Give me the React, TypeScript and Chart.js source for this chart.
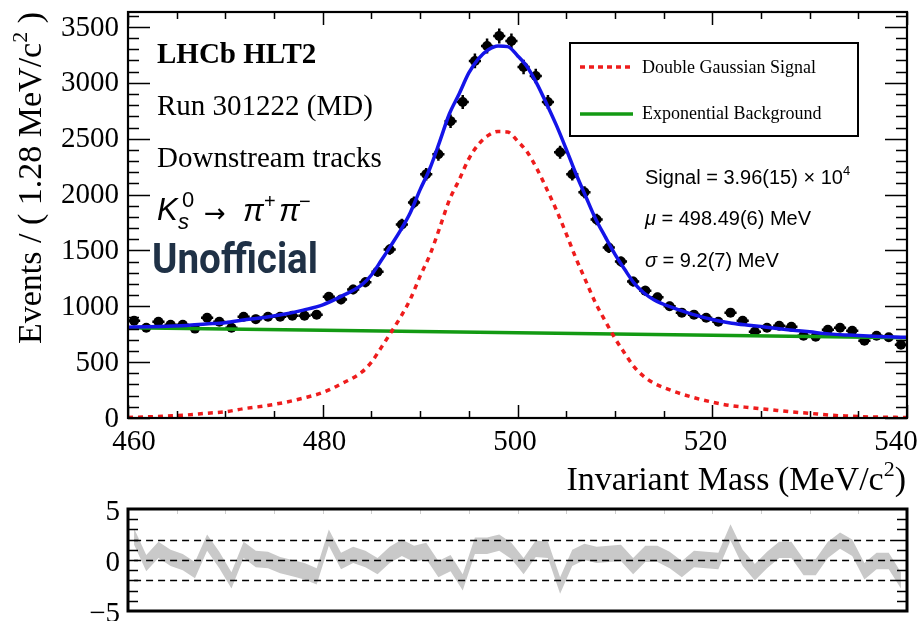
import React, { useEffect, useRef } from "react";
import { Chart, registerables } from "chart.js";

Chart.register(...registerables);

// ---- data ----
const binWidth = 1.25;
const binCenters = [
  460.625, 461.875, 463.125, 464.375, 465.625, 466.875, 468.125, 469.375, 470.625, 471.875,
  473.125, 474.375, 475.625, 476.875, 478.125, 479.375, 480.625, 481.875, 483.125, 484.375,
  485.625, 486.875, 488.125, 489.375, 490.625, 491.875, 493.125, 494.375, 495.625, 496.875,
  498.125, 499.375, 500.625, 501.875, 503.125, 504.375, 505.625, 506.875, 508.125, 509.375,
  510.625, 511.875, 513.125, 514.375, 515.625, 516.875, 518.125, 519.375, 520.625, 521.875,
  523.125, 524.375, 525.625, 526.875, 528.125, 529.375, 530.625, 531.875, 533.125, 534.375,
  535.625, 536.875, 538.125, 539.375,
];
const events = [
  870, 808, 862, 835, 835, 800, 898, 862, 808, 907,
  885, 907, 907, 916, 916, 925, 1086, 1060, 1150, 1215,
  1310, 1508, 1732, 1930, 2181, 2361, 2657, 2828, 3196, 3330,
  3420, 3375, 3142, 3061, 2828, 2379, 2181, 2020, 1777, 1526,
  1400, 1221, 1140, 1080, 1000, 943, 925, 898, 862, 943,
  870, 772, 808, 826, 817, 736, 727, 790, 808, 781,
  691, 736, 722, 655,
];
const curveMass = [
  460, 462, 464, 466, 468, 470, 472, 474, 476, 478, 480, 482, 484,
  485, 486, 487, 488, 489, 490, 491, 492, 493, 494, 495, 496, 497, 498, 499, 500,
  501, 502, 503, 504, 505, 506, 507, 508, 509, 510, 511, 512, 513, 514,
  516, 518, 520, 522, 524, 526, 528, 530, 532, 534, 536, 538, 540,
];
const signalCurve = [
  5, 10, 18, 27, 42, 56, 85, 108, 138, 178, 228, 310, 410,
  500, 630, 765, 905, 1065, 1270, 1460, 1700, 1950, 2130, 2320, 2450, 2530, 2565, 2560, 2480,
  2380, 2230, 2050, 1860, 1650, 1430, 1230, 1032, 870, 715, 580, 455, 370, 312,
  240, 185, 142, 110, 92, 74, 56, 42, 26, 17, 10, 7, 4,
];
const totalCurve = [
  813, 816, 822, 828, 841, 853, 879, 900, 928, 966, 1013, 1093, 1191,
  1280, 1409, 1543, 1681, 1840, 2044, 2233, 2472, 2721, 2900, 3089, 3217, 3296, 3330, 3324, 3243,
  3142, 2991, 2810, 2619, 2407, 2186, 1985, 1786, 1623, 1467, 1331, 1205, 1119, 1059,
  985, 928, 882, 848, 828, 808, 788, 771, 753, 742, 733, 727, 722,
];
const bkgMass = [460, 480, 500, 520, 540];
const bkgCurve = [808, 785, 763, 740, 718];
const pulls = [
  2.3, -0.3, 1.0, 0.2, -0.2, -1.0, 1.7, 0.0, -2.0, 1.0,
  0.1, 0.0, -0.5, -0.8, -1.1, -1.6, 2.2, -0.1, 0.5, 0.1,
  -0.6, 0.5, 1.2, 0.6, 0.9, -0.9, -0.3, -2.2, 1.4, 1.4,
  1.7, 0.9, -0.6, 1.1, 1.0, -2.5, 0.2, 0.8, 0.5, 0.6,
  0.7, -0.6, 0.6, 0.6, 0.0, -0.9, 0.1, 0.0, -0.1, 2.7,
  0.2, -1.2, 0.0, 1.0, 1.0, -0.7, -0.7, 1.0, 1.9, 1.2,
  -1.1, -0.1, -0.1, -2.0,
];
const pullBandHalf = 0.8;
const xTicks = [460, 480, 500, 520, 540];
const yTicks = [0, 500, 1000, 1500, 2000, 2500, 3000, 3500];
const pullTicks = [5, 0, -5];
const pullLines = [-2, 0, 2];

const SERIF = '"Liberation Serif", "Times New Roman", serif';
const SANS = '"Liberation Sans", Arial, sans-serif';

type Part = { t: string; font: string; dy?: number; dx?: number };
function drawParts(ctx: CanvasRenderingContext2D, x: number, y: number, parts: Part[], align: "left" | "right" = "left") {
  ctx.textAlign = "left";
  let total = 0;
  parts.forEach((p) => {
    ctx.font = p.font;
    total += ctx.measureText(p.t).width + (p.dx || 0);
  });
  let cx = align === "right" ? x - total : x;
  parts.forEach((p) => {
    ctx.font = p.font;
    cx += p.dx || 0;
    ctx.fillText(p.t, cx, y + (p.dy || 0));
    cx += ctx.measureText(p.t).width;
  });
}

const mainPlugin = {
  id: "rootStyleMain",
  beforeDatasetsDraw(chart: any) {
    const { ctx, chartArea: a } = chart;
    const xs = chart.scales.x;
    const ys = chart.scales.y;
    ctx.save();
    ctx.beginPath();
    ctx.rect(a.left, a.top, a.right - a.left, a.bottom - a.top);
    ctx.clip();
    ctx.strokeStyle = "#000";
    ctx.lineWidth = 2.5;
    binCenters.forEach((m, i) => {
      const v = events[i];
      const e = Math.sqrt(v);
      const px = xs.getPixelForValue(m);
      const py = ys.getPixelForValue(v);
      ctx.beginPath();
      ctx.moveTo(xs.getPixelForValue(m - binWidth / 2), py);
      ctx.lineTo(xs.getPixelForValue(m + binWidth / 2), py);
      ctx.moveTo(px, ys.getPixelForValue(v - e) + 1);
      ctx.lineTo(px, ys.getPixelForValue(v + e) - 1);
      ctx.stroke();
    });
    ctx.restore();
  },
  afterDraw(chart: any) {
    const { ctx, chartArea: a } = chart;
    const xs = chart.scales.x;
    const ys = chart.scales.y;
    ctx.save();
    ctx.fillStyle = "#000";
    ctx.strokeStyle = "#000";
    // ticks
    ctx.lineWidth = 1.5;
    ctx.beginPath();
    for (let v = 0; v <= 3600; v += 100) {
      const py = Math.round(ys.getPixelForValue(v)) + 0.5;
      const len = v % 500 === 0 ? 22 : 11;
      ctx.moveTo(a.left, py);
      ctx.lineTo(a.left + len, py);
      ctx.moveTo(a.right, py);
      ctx.lineTo(a.right - len, py);
    }
    for (let m = 460; m <= 540; m += 5) {
      const px = Math.round(xs.getPixelForValue(m)) + 0.5;
      const len = m % 20 === 0 ? 13 : 7;
      ctx.moveTo(px, a.bottom);
      ctx.lineTo(px, a.bottom - len);
      ctx.moveTo(px, a.top);
      ctx.lineTo(px, a.top + len);
    }
    ctx.stroke();
    // frame
    ctx.lineWidth = 2.2;
    ctx.strokeRect(a.left, a.top, a.right - a.left, a.bottom - a.top);
    // tick labels
    ctx.font = `29px ${SERIF}`;
    ctx.textAlign = "right";
    ctx.textBaseline = "middle";
    yTicks.forEach((v) => ctx.fillText(String(v), a.left - 9, ys.getPixelForValue(v) + 1));
    ctx.textAlign = "center";
    ctx.textBaseline = "alphabetic";
    const x0 = xs.getPixelForValue(xTicks[0]);
    const span = xs.getPixelForValue(xTicks[xTicks.length - 1]) - x0;
    xTicks.forEach((m) => {
      const px = xs.getPixelForValue(m);
      const lx = x0 + 6 + (px - x0) * ((span - 17) / span);
      ctx.fillText(String(m), lx, 450);
    });
    // axis titles
    drawParts(
      ctx,
      a.right - 1,
      490,
      [
        { t: "Invariant Mass (MeV/c", font: `34px ${SERIF}` },
        { t: "2", font: `22px ${SERIF}`, dy: -14 },
        { t: ")", font: `34px ${SERIF}` },
      ],
      "right"
    );
    ctx.save();
    ctx.translate(41, 12);
    ctx.rotate(-Math.PI / 2);
    drawParts(
      ctx,
      0,
      0,
      [
        { t: "Events / ( 1.28 MeV/c", font: `34px ${SERIF}` },
        { t: "2", font: `22px ${SERIF}`, dy: -14 },
        { t: " )", font: `34px ${SERIF}` },
      ],
      "right"
    );
    ctx.restore();
    // LHCb labels
    ctx.textAlign = "left";
    ctx.font = `bold 29px ${SERIF}`;
    ctx.fillText("LHCb HLT2", 157, 63);
    ctx.font = `29px ${SERIF}`;
    ctx.fillText("Run 301222 (MD)", 157, 115);
    ctx.fillText("Downstream tracks", 157, 167);
    // decay
    ctx.font = `italic 31px ${SANS}`;
    ctx.fillText("K", 157, 220);
    ctx.font = `italic 22px ${SANS}`;
    ctx.fillText("s", 178, 229);
    ctx.font = `22px ${SANS}`;
    ctx.fillText("0", 182, 207);
    ctx.font = `26px "DejaVu Sans", sans-serif`;
    ctx.fillText("\u2192", 204, 222);
    ctx.font = `italic 31px ${SANS}`;
    ctx.fillText("\u03c0", 243, 221);
    ctx.font = `20px ${SANS}`;
    ctx.fillText("+", 264, 208);
    ctx.font = `italic 31px ${SANS}`;
    ctx.fillText("\u03c0", 279, 221);
    ctx.font = `20px ${SANS}`;
    ctx.fillText("\u2212", 299, 208);
    // Unofficial
    ctx.save();
    ctx.fillStyle = "#1f3146";
    ctx.font = `bold 42px Roboto, "Liberation Sans", sans-serif`;
    const uw = ctx.measureText("Unofficial").width;
    ctx.translate(152, 273);
    ctx.scale(166 / uw, 1);
    ctx.fillText("Unofficial", 0, 0);
    ctx.restore();
    // legend
    ctx.lineWidth = 2;
    ctx.strokeRect(570, 43, 288, 93);
    ctx.save();
    ctx.strokeStyle = "#ee1c1c";
    ctx.lineWidth = 3.5;
    ctx.setLineDash([5, 4]);
    ctx.beginPath();
    ctx.moveTo(580, 67);
    ctx.lineTo(633, 67);
    ctx.stroke();
    ctx.setLineDash([]);
    ctx.strokeStyle = "#139a13";
    ctx.beginPath();
    ctx.moveTo(580, 114);
    ctx.lineTo(633, 114);
    ctx.stroke();
    ctx.restore();
    ctx.font = `18px ${SERIF}`;
    ctx.fillText("Double Gaussian Signal", 642, 73);
    ctx.fillText("Exponential Background", 642, 119);
    // fit results
    drawParts(ctx, 645, 184, [
      { t: "Signal = 3.96(15) \u00d7 10", font: `20px ${SANS}` },
      { t: "4", font: `13px ${SANS}`, dy: -9 },
    ]);
    drawParts(ctx, 645, 225, [
      { t: "\u03bc", font: `italic 20px ${SANS}` },
      { t: " = 498.49(6) MeV", font: `20px ${SANS}` },
    ]);
    drawParts(ctx, 645, 267, [
      { t: "\u03c3", font: `italic 20px ${SANS}` },
      { t: " = 9.2(7) MeV", font: `20px ${SANS}` },
    ]);
    ctx.restore();
  },
};

const pullPlugin = {
  id: "rootStylePull",
  afterDraw(chart: any) {
    const { ctx, chartArea: a } = chart;
    const xs = chart.scales.x;
    const ys = chart.scales.y;
    ctx.save();
    ctx.strokeStyle = "#000";
    ctx.fillStyle = "#000";
    ctx.lineWidth = 1.5;
    ctx.setLineDash([7, 5]);
    const x0 = xs.getPixelForValue(binCenters[0]);
    const x1 = xs.getPixelForValue(binCenters[binCenters.length - 1]);
    pullLines.forEach((v) => {
      const py = Math.round(ys.getPixelForValue(v)) + 0.5;
      ctx.beginPath();
      ctx.moveTo(x0, py);
      ctx.lineTo(x1, py);
      ctx.stroke();
    });
    ctx.setLineDash([]);
    ctx.beginPath();
    for (let v = -4; v <= 4; v += 1) {
      const py = Math.round(ys.getPixelForValue(v)) + 0.5;
      ctx.moveTo(a.left, py);
      ctx.lineTo(a.left + 10, py);
      ctx.moveTo(a.right, py);
      ctx.lineTo(a.right - 10, py);
    }
    ctx.stroke();
    ctx.strokeStyle = "#cfcfcf";
    ctx.lineWidth = 1;
    ctx.beginPath();
    for (let m = 465; m < 540; m += 5) {
      const px = Math.round(xs.getPixelForValue(m)) + 0.5;
      ctx.moveTo(px, a.top);
      ctx.lineTo(px, a.top + 5);
    }
    ctx.stroke();
    ctx.strokeStyle = "#000";
    ctx.lineWidth = 3;
    ctx.strokeRect(a.left, a.top, a.right - a.left, a.bottom - a.top);
    ctx.font = `29px ${SERIF}`;
    ctx.textAlign = "right";
    ctx.textBaseline = "middle";
    pullTicks.forEach((v) => {
      const label = v < 0 ? "\u2212" + Math.abs(v) : String(v);
      ctx.fillText(label, a.left - 8, ys.getPixelForValue(v) + 3);
    });
    ctx.restore();
  },
};

export default function App() {
  const mainRef = useRef<HTMLCanvasElement | null>(null);
  const pullRef = useRef<HTMLCanvasElement | null>(null);

  useEffect(() => {
    if (!mainRef.current || !pullRef.current) return;
    const main = new Chart(mainRef.current, {
      type: "line",
      data: {
        datasets: [
          {
            label: "Data",
            data: binCenters.map((x, i) => ({ x, y: events[i] })),
            showLine: false,
            pointRadius: 5,
            pointBackgroundColor: "#000",
            pointBorderColor: "#000",
            pointBorderWidth: 0,
            order: 4,
          },
          {
            label: "Exponential Background",
            data: bkgMass.map((x, i) => ({ x, y: bkgCurve[i] })),
            borderColor: "#139a13",
            borderWidth: 3.5,
            pointRadius: 0,
            fill: false,
            order: 3,
          },
          {
            label: "Double Gaussian Signal",
            data: curveMass.map((x, i) => ({ x, y: signalCurve[i] })),
            borderColor: "#ee1c1c",
            borderWidth: 3.5,
            borderDash: [5, 5],
            pointRadius: 0,
            cubicInterpolationMode: "monotone",
            fill: false,
            order: 2,
          },
          {
            label: "Total fit",
            data: curveMass.map((x, i) => ({ x, y: totalCurve[i] })),
            borderColor: "#1414e8",
            borderWidth: 3.5,
            pointRadius: 0,
            cubicInterpolationMode: "monotone",
            fill: false,
            order: 1,
          },
        ],
      },
      options: {
        animation: false,
        responsive: false,
        events: [],
        layout: { padding: { left: 128, right: 12, top: 12, bottom: 82 } },
        scales: {
          x: { type: "linear", min: 460, max: 540, display: false },
          y: { type: "linear", min: 0, max: 3634, display: false },
        },
        plugins: { legend: { display: false }, tooltip: { enabled: false } },
      },
      plugins: [mainPlugin],
    } as any);

    const pull = new Chart(pullRef.current, {
      type: "line",
      data: {
        datasets: [
          {
            label: "upper",
            data: binCenters.map((x, i) => ({ x, y: pulls[i] + pullBandHalf })),
            borderWidth: 0,
            borderColor: "rgba(0,0,0,0)",
            backgroundColor: "#c9c9c9",
            pointRadius: 0,
            tension: 0,
            fill: "+1",
          },
          {
            label: "lower",
            data: binCenters.map((x, i) => ({ x, y: pulls[i] - pullBandHalf })),
            borderWidth: 0,
            borderColor: "rgba(0,0,0,0)",
            pointRadius: 0,
            tension: 0,
            fill: false,
          },
        ],
      },
      options: {
        animation: false,
        responsive: false,
        events: [],
        layout: { padding: { left: 128, right: 12, top: 9, bottom: 10 } },
        scales: {
          x: { type: "linear", min: 460, max: 540, display: false },
          y: { type: "linear", min: -5, max: 5, display: false },
        },
        plugins: { legend: { display: false }, tooltip: { enabled: false } },
      },
      plugins: [pullPlugin],
    } as any);

    return () => {
      main.destroy();
      pull.destroy();
    };
  }, []);

  return (
    <div style={{ position: "fixed", left: 0, top: 0, width: 919, height: 621, background: "#fff" }}>
      <canvas ref={mainRef} width={919} height={500} style={{ position: "absolute", left: 0, top: 0 }} />
      <canvas ref={pullRef} width={919} height={121} style={{ position: "absolute", left: 0, top: 500 }} />
    </div>
  );
}
